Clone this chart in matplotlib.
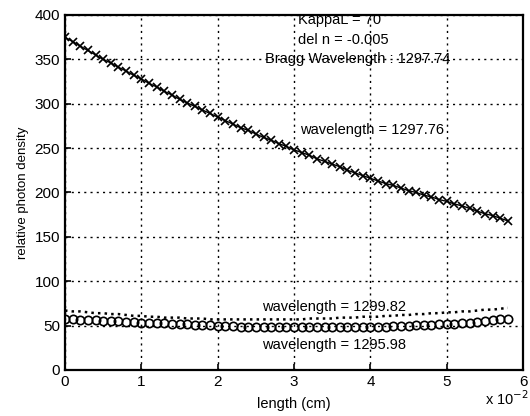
import numpy as np
import matplotlib
matplotlib.use("Agg")
import matplotlib.pyplot as plt
from matplotlib.ticker import FuncFormatter

plt.rcParams['font.family'] = ['Liberation Sans', 'DejaVu Sans']

# length along the grating, in units of 1e-2 cm
length = np.round(np.arange(0, 5.85, 0.1), 1)

# wavelength = 1297.76 (x markers)
dens_129776 = [375, 370, 365, 360, 355, 350, 346, 341, 337, 332,
               328, 323, 319, 314, 310, 305, 301, 297, 293, 289,
               285, 281, 277, 273, 270, 266, 262, 259, 255, 252,
               248, 245, 242, 238, 235, 232, 229, 225, 222, 219,
               216, 213, 210, 208, 205, 202, 200, 197, 195, 192,
               190, 187, 185, 182, 179, 176, 174, 171, 168]

# wavelength = 1299.82 (dotted)
dens_129982 = [67, 66, 66, 65, 64, 64, 63, 63, 62, 61,
               61, 60, 60, 59, 59, 59, 58, 58, 58, 57,
               57, 57, 57, 57, 57, 57, 57, 57, 57, 57,
               57, 57, 58, 58, 58, 58, 59, 59, 59, 60,
               60, 60, 61, 61, 62, 62, 63, 63, 64, 64,
               65, 65, 66, 66, 67, 68, 68, 69, 70]

# wavelength = 1295.98 (circles)
dens_129598 = [57, 57, 56, 56, 56, 55, 55, 55, 54, 54,
               53, 53, 53, 53, 52, 52, 52, 51, 51, 51,
               50, 50, 50, 49, 49, 49, 49, 48, 48, 48,
               48, 48, 48, 48, 48, 48, 48, 48, 49, 49,
               49, 49, 49, 50, 50, 50, 51, 51, 51, 52,
               52, 52, 53, 53, 54, 55, 56, 57, 58]

x_ticks = [0, 1, 2, 3, 4, 5, 6]
y_ticks = [0, 50, 100, 150, 200, 250, 300, 350, 400]

fig = plt.figure(figsize=(5.30, 4.16), dpi=100)
ax = fig.add_axes([0.1226, 0.1106, 0.8644, 0.8534])

x_cm = length * 1e-2
ax.plot(x_cm, dens_129776, color='black', marker='x', markersize=5.5,
        linewidth=1.0, markeredgewidth=1.2)
ax.plot(x_cm, dens_129982, color='black', linestyle=':', linewidth=1.8)
ax.plot(x_cm, dens_129598, color='black', marker='o', markersize=6,
        linestyle='none', markerfacecolor='none', markeredgewidth=1.2)

ax.set_xlim(0, 0.06)
ax.set_ylim(0, 400)
ax.set_xticks([t * 1e-2 for t in x_ticks])
ax.xaxis.set_major_formatter(FuncFormatter(lambda v, p: '%d' % round(v * 100)))
ax.set_yticks(y_ticks)

ax.grid(True, color='black', linestyle=(0, (1.5, 3)), linewidth=1.0)
ax.tick_params(direction='in', labelsize=11, length=4, width=1.2)
for s in ax.spines.values():
    s.set_linewidth(1.6)

ax.set_ylabel('relative photon density', fontsize=9.5, labelpad=4)
ax.set_xlabel('length (cm)', fontsize=10.5, labelpad=6)
fig.text(0.915, 0.02, 'x 10$^{-2}$', fontsize=10.5, ha='left', va='bottom')

fs = 10.5
ax.text(0.0305, 394, 'KappaL = 70', fontsize=fs, va='center')
ax.text(0.0305, 372, 'del n = -0.005', fontsize=fs, va='center')
ax.text(0.0262, 350, 'Bragg Wavelength : 1297.74', fontsize=fs, va='center')
ax.text(0.0308, 270, 'wavelength = 1297.76', fontsize=fs, va='center')
ax.text(0.0258, 71, 'wavelength = 1299.82', fontsize=fs, va='center')
ax.text(0.0258, 28, 'wavelength = 1295.98', fontsize=fs, va='center')

fig.savefig('out.png', dpi=100)
